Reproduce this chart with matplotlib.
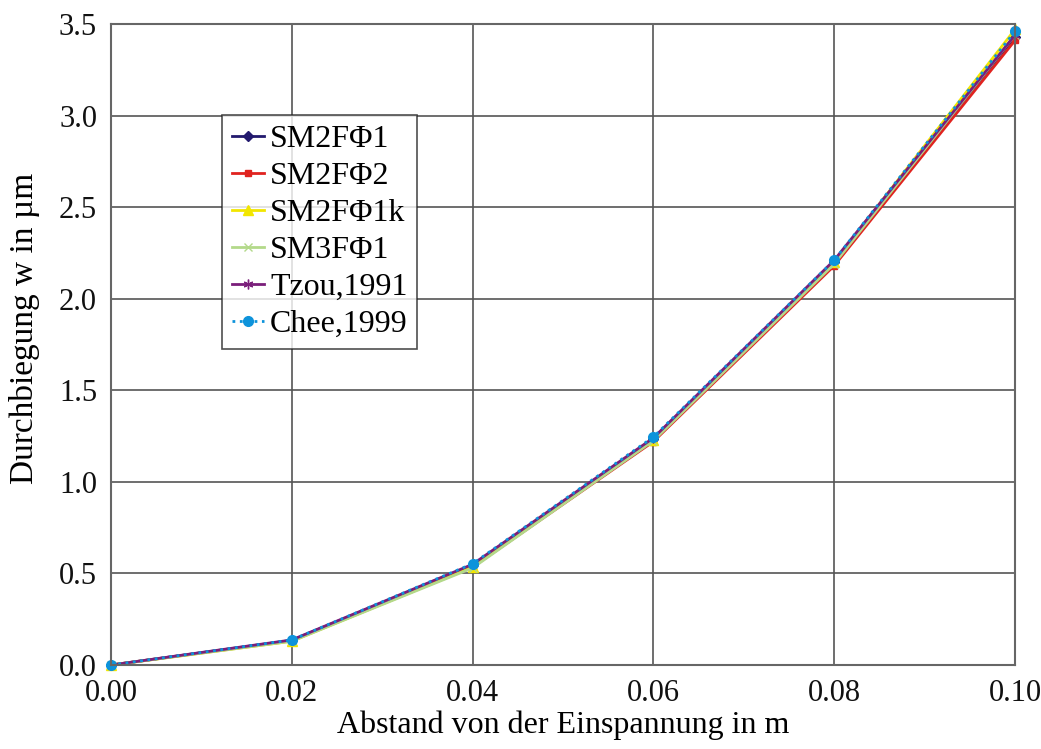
import matplotlib

matplotlib.use("Agg")

import matplotlib.pyplot as plt

plt.rcParams["font.family"] = ["Liberation Serif", "DejaVu Serif"]

# distance from clamping (m) and deflection (um)
x_pos = [0.00, 0.02, 0.04, 0.06, 0.08, 0.10]
sm2f_phi1 = [0.0, 0.135, 0.545, 1.235, 2.200, 3.430]
sm2f_phi2 = [0.0, 0.133, 0.535, 1.220, 2.180, 3.410]
sm2f_phi1k = [0.0, 0.130, 0.535, 1.230, 2.200, 3.470]
sm3f_phi1 = [0.0, 0.130, 0.530, 1.225, 2.190, 3.440]
tzou_1991 = [0.0, 0.137, 0.550, 1.240, 2.210, 3.440]
chee_1999 = [0.0, 0.137, 0.553, 1.245, 2.210, 3.460]

labels = ["SM2FΦ1", "SM2FΦ2", "SM2FΦ1k", "SM3FΦ1", "Tzou,1991", "Chee,1999"]

fig = plt.figure(figsize=(10.41, 7.49), dpi=100)
ax = fig.add_axes([0.1066, 0.1121, 0.8684, 0.8559])

kw = dict(lw=2, clip_on=False)
ax.plot(x_pos, sm2f_phi1, color="#231a6e", marker="D", ms=5, label=labels[0], **kw)
ax.plot(x_pos, sm2f_phi2, color="#e0231f", marker="s", ms=5, label=labels[1], **kw)
ax.plot(x_pos, sm2f_phi1k, color="#f2e600", marker="^", ms=7, label=labels[2], **kw)
ax.plot(x_pos, sm3f_phi1, color="#b3d98a", marker="x", ms=6, label=labels[3], **kw)
ax.plot(x_pos, tzou_1991, color="#7a1e7a", marker=(6, 2, 0), ms=7, label=labels[4], **kw)
ax.plot(x_pos, chee_1999, color="#0d93db", ls=":", marker="o", ms=7, label=labels[5], **kw)

ax.set_xlim(0, 0.10)
ax.set_ylim(0, 3.5)
ax.set_xticks([0.00, 0.02, 0.04, 0.06, 0.08, 0.10])
ax.set_yticks([0.0, 0.5, 1.0, 1.5, 2.0, 2.5, 3.0, 3.5])
ax.xaxis.set_major_formatter(matplotlib.ticker.FormatStrFormatter("%.2f"))
ax.yaxis.set_major_formatter(matplotlib.ticker.FormatStrFormatter("%.1f"))
ax.tick_params(labelsize=22, length=0, colors="#111111")
ax.tick_params(axis="y", pad=10)
ax.tick_params(axis="x", pad=10)
ax.grid(True, color="#555555", lw=1.2)
ax.set_axisbelow(True)
for s in ax.spines.values():
    s.set_color("#666666")
    s.set_linewidth(1.5)

ax.set_xlabel("Abstand von der Einspannung in m", fontsize=23, labelpad=2)
ax.set_ylabel("Durchbiegung w in µm", fontsize=24)
ax.yaxis.set_label_coords(-0.078, 0.525)

leg = ax.legend(loc="upper left", bbox_to_anchor=(0.123, 0.858), fontsize=23,
                frameon=True, fancybox=False, handlelength=1.0, handletextpad=0.2,
                borderpad=0.3, labelspacing=0.24, borderaxespad=0)
leg.get_frame().set_edgecolor("#222222")
leg.get_frame().set_linewidth(1.2)

fig.savefig("out.png", dpi=100)
